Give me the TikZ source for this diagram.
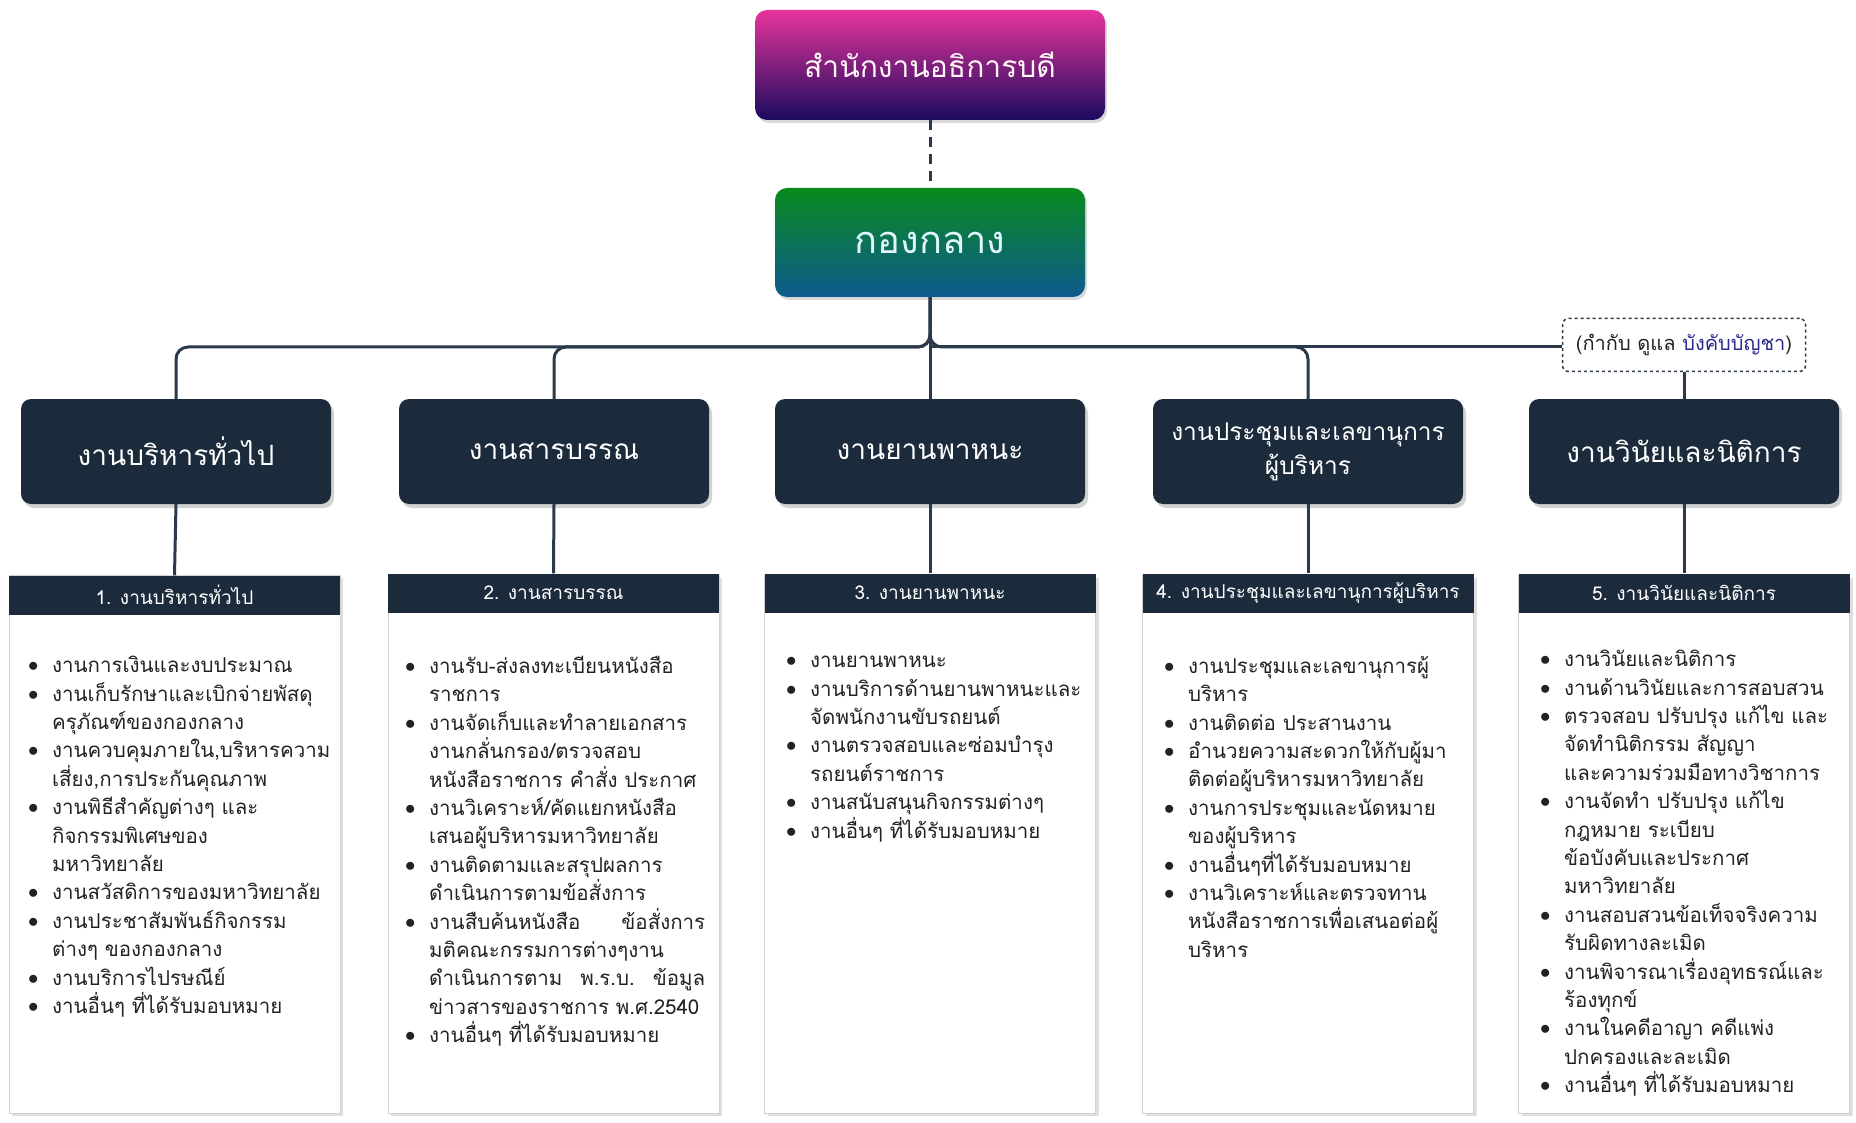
\documentclass[tikz,border=0pt]{standalone}
\usepackage{fontspec}
\setmainfont[Script=Thai]{Loma}
\usetikzlibrary{shadows,calc}
\definecolor{navy}{HTML}{1C2B3C}
\definecolor{conn}{HTML}{2B3A4A}
\definecolor{txt}{HTML}{222222}
\definecolor{boss}{HTML}{2A2A8C}
\definecolor{topA}{HTML}{E8349C}
\definecolor{topB}{HTML}{1A0A5E}
\definecolor{midA}{HTML}{0A8A1E}
\definecolor{midB}{HTML}{0D5A8E}
\newcommand\BItem[1]{\makebox[24pt][l]{\raisebox{0.05em}{$\bullet$}}#1}
\newcommand\CItem[1]{\hspace*{24pt}#1}
\newcommand\JLine[2]{\hspace*{24pt}\makebox[#1][l]{#2}}
\newcommand\JBLine[2]{\makebox[24pt][l]{\raisebox{0.05em}{$\bullet$}}\makebox[#1][l]{#2}}
\newcommand\TightLines{\lineskiplimit=-100pt\relax\lineskip=0pt\relax}
\begin{document}
\begin{tikzpicture}[x=1pt,y=-1pt,
  line/.style={draw=conn,line width=3pt},
  levtwo/.style={fill=navy,rounded corners=10pt,minimum width=310pt,minimum height=105pt,
    text=white,font=\fontsize{28}{33}\selectfont,align=center,
    drop shadow={shadow xshift=3pt,shadow yshift=-4pt,opacity=.35}},
  headbar/.style={fill=navy,minimum width=331pt,minimum height=39pt,inner sep=0pt,
    text=white,font=\fontsize{19}{22}\selectfont},
  bodybox/.style={fill=white,draw=black!18,line width=1pt,
    drop shadow={shadow xshift=3pt,shadow yshift=-3pt,opacity=.25}},
  bodytext/.style={anchor=north west,inner sep=0pt,text width=330pt,align=left,text=txt,
    font=\fontsize{20.5}{28.4}\selectfont,execute at begin node=\TightLines}]
\useasboundingbox (0,0) rectangle (1856,1123);
\fill[white] (0,0) rectangle (1856,1123);

% top boxes
\node[rounded corners=12pt,top color=topA,bottom color=topB,minimum width=350pt,minimum height=110pt,
  text=white!85!pink,font=\fontsize{30}{34}\selectfont,
  drop shadow={shadow xshift=2pt,shadow yshift=-3pt,opacity=.3}] (top) at (930,65) {สำนักงานอธิการบดี};
\node[rounded corners=12pt,top color=midA,bottom color=midB,minimum width=310pt,minimum height=109pt,
  text=white!88!cyan,font=\fontsize{38}{42}\selectfont,
  drop shadow={shadow xshift=2pt,shadow yshift=-3pt,opacity=.3}] (mid) at (930,242.5) {กองกลาง};

% level two
\node[levtwo] (l1) at (176,451.5) {งานบริหารทั่วไป};
\node[levtwo] (l2) at (554,451.5) {งานสารบรรณ};
\node[levtwo] (l3) at (930,451.5) {งานยานพาหนะ};
\node[levtwo,font=\fontsize{24.5}{34}\selectfont] (l4) at (1308,451.5) {งานประชุมและเลขานุการ\\ผู้บริหาร};
\node[levtwo] (l5) at (1684,451.5) {งานวินัยและนิติการ};

% note box
\node[draw=conn,dashed,line width=1.5pt,rounded corners=6pt,fill=white,minimum width=243pt,minimum height=53pt,
  inner sep=2pt,text=txt,font=\fontsize{20}{24}\selectfont] (note) at (1684,345) {(กำกับ ดูแล {\color{boss}บังคับบัญชา})};

% bodies
\foreach \cx in {174.5,553.5,930,1308,1684}{
  \fill[white,bodybox] (\cx-165.5,575) rectangle (\cx+165.5,1113);
}
\node[headbar] (h1) at (174.5,595) {1. งานบริหารทั่วไป};
\node[headbar] (h2) at (553.5,593) {2. งานสารบรรณ};
\node[headbar] (h3) at (930,593) {3. งานยานพาหนะ};
\node[headbar] (h4) at (1308,593) {4. งานประชุมและเลขานุการผู้บริหาร};
\node[headbar] (h5) at (1684,593) {5. งานวินัยและนิติการ};

% connectors
\coordinate (bar) at (930,347);
\draw[line,dash pattern=on 10pt off 7pt] (top.south) -- (mid.north);
\draw[line,rounded corners=12pt] (mid.south) -- (bar) -| (l1.north);
\draw[line,rounded corners=12pt] (mid.south) -- (bar) -| (l2.north);
\draw[line,rounded corners=12pt] (mid.south) -- (bar) -| (l4.north);
\draw[line] (mid.south) -- (l3.north);
\draw[line] (bar) -- (bar -| note.west);
\draw[line] (note.south) -- (l5.north);
\draw[line] (l1.south) -- (h1.north);
\draw[line] (l2.south) -- (h2.north);
\draw[line] (l3.south) -- (h3.north);
\draw[line] (l4.south) -- (h4.north);
\draw[line] (l5.south) -- (h5.north);

% body texts
\node[bodytext] (t1) at (28,656) {%
\BItem{งานการเงินและงบประมาณ}\\
\BItem{งานเก็บรักษาและเบิกจ่ายพัสดุ}\\
\CItem{ครุภัณฑ์ของกองกลาง}\\
\BItem{งานควบคุมภายใน,บริหารความ}\\
\CItem{เสี่ยง,การประกันคุณภาพ}\\
\BItem{งานพิธีสำคัญต่างๆ และ}\\
\CItem{กิจกรรมพิเศษของ}\\
\CItem{มหาวิทยาลัย}\\
\BItem{งานสวัสดิการของมหาวิทยาลัย}\\
\BItem{งานประชาสัมพันธ์กิจกรรม}\\
\CItem{ต่างๆ ของกองกลาง}\\
\BItem{งานบริการไปรษณีย์}\\
\BItem{งานอื่นๆ ที่ได้รับมอบหมาย}};

\node[bodytext] (t2) at (405,656) {%
\BItem{งานรับ-ส่งลงทะเบียนหนังสือ}\\
\CItem{ราชการ}\\
\BItem{งานจัดเก็บและทำลายเอกสาร}\\
\CItem{งานกลั่นกรอง/ตรวจสอบ}\\
\CItem{หนังสือราชการ คำสั่ง ประกาศ}\\
\BItem{งานวิเคราะห์/คัดแยกหนังสือ}\\
\CItem{เสนอผู้บริหารมหาวิทยาลัย}\\
\BItem{งานติดตามและสรุปผลการ}\\
\CItem{ดำเนินการตามข้อสั่งการ}\\
\JBLine{276pt}{งานสืบค้นหนังสือ\hfill ข้อสั่งการ}\\
\CItem{มติคณะกรรมการต่างๆงาน}\\
\JLine{276pt}{ดำเนินการตาม\hfill พ.ร.บ.\hfill ข้อมูล}\\
\CItem{ข่าวสารของราชการ พ.ศ.2540}\\
\BItem{งานอื่นๆ ที่ได้รับมอบหมาย}};

\node[bodytext] (t3) at (786,656) {%
\BItem{งานยานพาหนะ}\\
\BItem{งานบริการด้านยานพาหนะและ}\\
\CItem{จัดพนักงานขับรถยนต์}\\
\BItem{งานตรวจสอบและซ่อมบำรุง}\\
\CItem{รถยนต์ราชการ}\\
\BItem{งานสนับสนุนกิจกรรมต่างๆ}\\
\BItem{งานอื่นๆ ที่ได้รับมอบหมาย}};

\node[bodytext] (t4) at (1164,656) {%
\BItem{งานประชุมและเลขานุการผู้}\\
\CItem{บริหาร}\\
\BItem{งานติดต่อ ประสานงาน}\\
\BItem{อำนวยความสะดวกให้กับผู้มา}\\
\CItem{ติดต่อผู้บริหารมหาวิทยาลัย}\\
\BItem{งานการประชุมและนัดหมาย}\\
\CItem{ของผู้บริหาร}\\
\BItem{งานอื่นๆที่ได้รับมอบหมาย}\\
\BItem{งานวิเคราะห์และตรวจทาน}\\
\CItem{หนังสือราชการเพื่อเสนอต่อผู้}\\
\CItem{บริหาร}};

\node[bodytext] (t5) at (1540,650) {%
\BItem{งานวินัยและนิติการ}\\
\BItem{งานด้านวินัยและการสอบสวน}\\
\BItem{ตรวจสอบ ปรับปรุง แก้ไข และ}\\
\CItem{จัดทำนิติกรรม สัญญา}\\
\CItem{และความร่วมมือทางวิชาการ}\\
\BItem{งานจัดทำ ปรับปรุง แก้ไข}\\
\CItem{กฎหมาย ระเบียบ}\\
\CItem{ข้อบังคับและประกาศ}\\
\CItem{มหาวิทยาลัย}\\
\BItem{งานสอบสวนข้อเท็จจริงความ}\\
\CItem{รับผิดทางละเมิด}\\
\BItem{งานพิจารณาเรื่องอุทธรณ์และ}\\
\CItem{ร้องทุกข์}\\
\BItem{งานในคดีอาญา คดีแพ่ง}\\
\CItem{ปกครองและละเมิด}\\
\BItem{งานอื่นๆ ที่ได้รับมอบหมาย}};
\end{tikzpicture}
\end{document}
